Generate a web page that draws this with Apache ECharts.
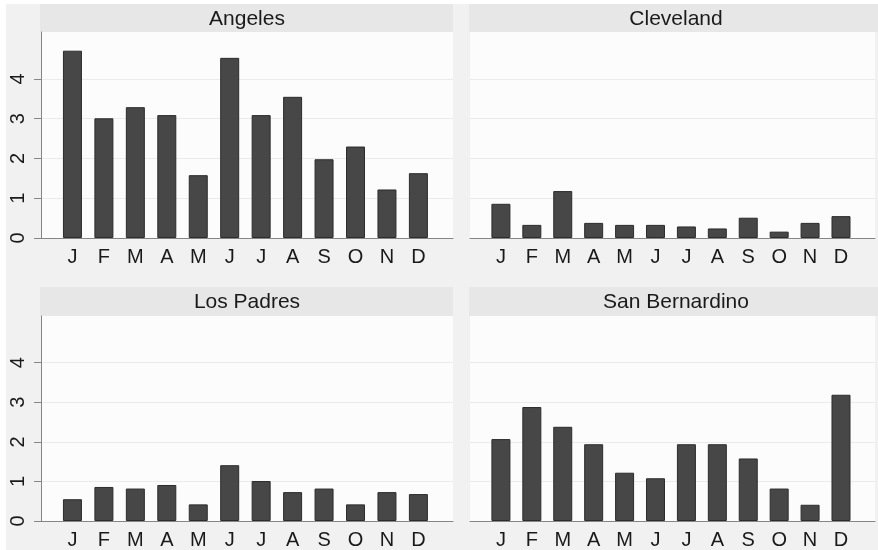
<!DOCTYPE html>
<html>
<head>
<meta charset="utf-8">
<script src="https://cdn.jsdelivr.net/npm/echarts@6/dist/echarts.min.js"></script>
<style>
html,body{margin:0;padding:0;background:#ffffff;}
#chart{width:878px;height:550px;}
</style>
</head>
<body>
<div id="chart"></div>
<script>
const months = ['J','F','M','A','M','J','J','A','S','O','N','D'];
const panelTitles = ['Angeles','Cleveland','Los Padres','San Bernardino'];
const angeles = [4.71,3.01,3.29,3.09,1.58,4.53,3.09,3.55,1.98,2.30,1.22,1.63];
const cleveland = [0.86,0.33,1.18,0.38,0.33,0.33,0.29,0.24,0.51,0.16,0.38,0.55];
const losPadres = [0.55,0.86,0.82,0.91,0.42,1.41,1.01,0.73,0.82,0.42,0.73,0.68];
const sanBernardino = [2.07,2.88,2.38,1.94,1.22,1.08,1.94,1.94,1.58,0.82,0.41,3.19];
const yTicks = [0,1,2,3,4];
const yMax = 5.18;

const seriesValues = [angeles, cleveland, losPadres, sanBernardino];
const FONT = '"Liberation Sans", Arial, Helvetica, sans-serif';
const panels = [
  {left: 41, top: 32},
  {left: 470, top: 32},
  {left: 41, top: 316},
  {left: 470, top: 316}
];
const PW = 412, PH = 206;

const chart = echarts.init(document.getElementById('chart'), null, {renderer: 'canvas'});

const grids = [], xAxes = [], yAxes = [], series = [], graphics = [];

graphics.push({type:'rect', shape:{x:0,y:0,width:878,height:4}, style:{fill:'#ffffff'}, z:-10, silent:true});
graphics.push({type:'rect', shape:{x:0,y:0,width:6,height:550}, style:{fill:'#ffffff'}, z:-10, silent:true});

panels.forEach((p, i) => {
  const isLeft = (i % 2 === 0);
  grids.push({
    left: p.left, top: p.top, width: PW, height: PH,
    show: true, backgroundColor: '#fcfcfc', borderWidth: 0,
    containLabel: false
  });
  xAxes.push({
    type: 'value', gridIndex: i, min: -1, max: 12.1, interval: 1,
    axisLine: {show: true, onZero: false, lineStyle: {color: '#858585', width: 1}},
    axisTick: {show: false},
    splitLine: {show: false},
    axisLabel: {
      show: true, margin: 9, fontSize: 20, color: '#1a1a1a', fontFamily: FONT,
      formatter: v => (Number.isInteger(v) && v >= 0 && v < months.length) ? months[v] : '',
      showMinLabel: true, showMaxLabel: true
    }
  });
  yAxes.push({
    type: 'value', gridIndex: i, min: 0, max: yMax, interval: 1,
    axisLine: {show: isLeft, onZero: false, lineStyle: {color: '#858585', width: 1}},
    axisTick: {show: isLeft, length: 7, lineStyle: {color: '#858585'}, customValues: yTicks},
    splitLine: {show: true, lineStyle: {color: ['#ebebeb','#ebebeb','#ebebeb','#ebebeb','#ebebeb','rgba(0,0,0,0)','rgba(0,0,0,0)'], width: 1}},
    axisLabel: {
      show: isLeft, rotate: 90, margin: 13, fontSize: 20, color: '#1a1a1a', fontFamily: FONT,
      customValues: yTicks
    }
  });
  series.push({
    type: 'bar', xAxisIndex: i, yAxisIndex: i,
    barWidth: 19,
    itemStyle: {color: '#474747', borderColor: '#2c2c2c', borderWidth: 1},
    data: seriesValues[i].map((v, k) => [k, v]),
    animation: false
  });
  const stripTop = i < 2 ? 4 : 287;
  const stripH = p.top - stripTop;
  graphics.push({type:'rect', shape:{x: p.left - 1, y: stripTop, width: PW + 1, height: stripH}, style:{fill:'#e7e7e7'}, z: -5, silent: true});
  graphics.push({type:'text', x: p.left + 206, y: stripTop + stripH / 2 + 1,
    style:{text: panelTitles[i], fill:'#1a1a1a', font: '21px ' + FONT, align:'center', verticalAlign:'middle'}, z: 5, silent: true});
});

chart.setOption({
  backgroundColor: '#f1f1f1',
  animation: false,
  grid: grids,
  xAxis: xAxes,
  yAxis: yAxes,
  series: series,
  graphic: graphics
});
</script>
</body>
</html>
